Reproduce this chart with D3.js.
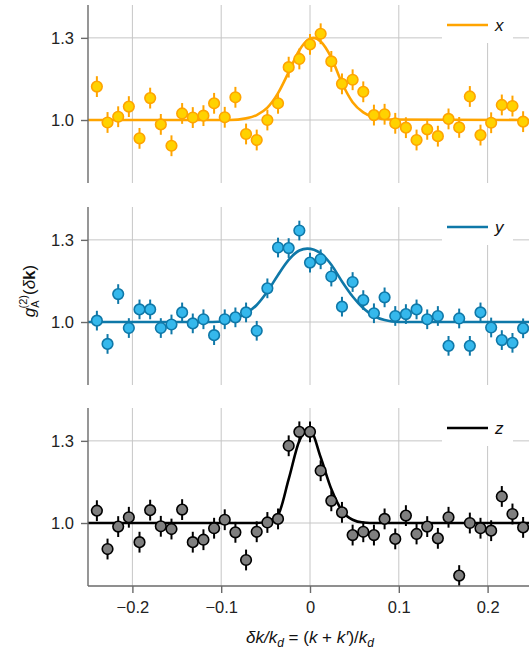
<!DOCTYPE html>
<html lang="en">
<head>
  <meta charset="UTF-8">
  <title>g2 correlation vs dk</title>
  <script src="https://d3js.org/d3.v7.min.js"></script>
  <style>
    body { margin: 0; background: #fff; }
    svg { font-family: "Liberation Sans", Arial, sans-serif; }
    .grid line { stroke: #c6c6c6; stroke-width: 1; }
    .axis path, .axis line { stroke: #6a6a6a; stroke-width: 1.4; }
    .axis text { font-size: 16.5px; fill: #222; }
    .fit { fill: none; stroke-width: 2.6; }
  </style>
</head>
<body>
<svg width="529" height="653" id="chart"></svg>

<script>
  // data positions along dk/kd
  const dk = [-0.240, -0.228, -0.216, -0.204, -0.192, -0.180, -0.168, -0.156, -0.144, -0.132,
              -0.120, -0.108, -0.096, -0.084, -0.072, -0.060, -0.048, -0.036, -0.024, -0.012,
               0.000,  0.012,  0.024,  0.036,  0.048,  0.060,  0.072,  0.084,  0.096,  0.108,
               0.120,  0.132,  0.144,  0.156,  0.168,  0.180,  0.192,  0.204,  0.216,  0.228, 0.240];

  const gX = [1.122, 0.991, 1.012, 1.049, 0.933, 1.080, 0.984, 0.906, 1.024, 1.009,
              1.016, 1.061, 1.010, 1.083, 0.949, 0.927, 1.000, 1.061, 1.193, 1.223,
              1.276, 1.315, 1.214, 1.132, 1.147, 1.103, 1.018, 1.021, 0.988, 0.972,
              0.927, 0.966, 0.941, 1.004, 0.973, 1.086, 0.945, 0.990, 1.055, 1.051, 0.994];
  const gY = [1.005, 0.920, 1.102, 0.978, 1.046, 1.046, 0.978, 0.991, 1.035, 0.995,
              1.010, 0.952, 1.010, 1.017, 1.035, 0.968, 1.123, 1.272, 1.270, 1.334,
              1.217, 1.229, 1.166, 1.056, 1.146, 1.080, 1.032, 1.090, 1.022, 1.029,
              1.046, 1.010, 1.022, 0.913, 1.013, 0.913, 1.035, 0.980, 0.934, 0.924, 0.977];
  const gZ = [1.045, 0.905, 0.987, 1.021, 0.930, 1.047, 0.988, 0.978, 1.049, 0.930,
              0.939, 0.981, 1.012, 0.966, 0.865, 0.968, 1.002, 1.015, 1.282, 1.333,
              1.333, 1.191, 1.081, 1.039, 0.956, 0.968, 0.956, 1.015, 0.942, 1.027,
              0.960, 0.987, 0.944, 1.021, 0.808, 1.000, 0.981, 0.972, 1.097, 1.033, 0.984];
  const errors = [0.038, 0.036, 0.038];

  // fit curves
  const fitXk = [-0.25, -0.09, -0.072, -0.06, -0.048, -0.036, -0.024, -0.012, 0.0, 0.004, 0.012, 0.024, 0.036, 0.048, 0.06, 0.072, 0.09, 0.25];
  const fitXg = [1.0, 1.0, 1.006, 1.018, 1.045, 1.098, 1.175, 1.255, 1.297, 1.300, 1.287, 1.228, 1.135, 1.065, 1.028, 1.010, 1.002, 1.0];
  const fitYk = [-0.25, -0.11, -0.096, -0.084, -0.072, -0.06, -0.048, -0.036, -0.024, -0.012, -0.003, 0.012, 0.024, 0.036, 0.048, 0.06, 0.072, 0.084, 0.1, 0.25];
  const fitYg = [1.0, 1.0, 1.004, 1.013, 1.032, 1.062, 1.111, 1.172, 1.227, 1.261, 1.268, 1.251, 1.209, 1.148, 1.093, 1.050, 1.022, 1.007, 1.0, 1.0];
  const fitZk = [-0.25, -0.06, -0.048, -0.036, -0.024, -0.012, -0.002, 0.0, 0.012, 0.024, 0.036, 0.048, 0.06, 0.075, 0.25];
  const fitZg = [1.0, 1.0, 1.006, 1.030, 1.160, 1.300, 1.343, 1.342, 1.240, 1.124, 1.045, 1.012, 1.002, 1.0, 1.0];

  const labels = ['x', 'y', 'z'];
  const markerFill = ['#ffd200', '#35b8ec', '#7f7f7f'];
  const markerStroke = ['#ffa400', '#0f78a8', '#000000'];
  const lineColor = ['#ffa400', '#0f78a8', '#000000'];

  const xTicks = [-0.2, -0.1, 0, 0.1, 0.2];
  const yTicks = [1.0, 1.3];

  const series = [
    { values: gX, fitK: fitXk, fitG: fitXg },
    { values: gY, fitK: fitYk, fitG: fitYg },
    { values: gZ, fitK: fitZk, fitG: fitZg }
  ];

  const left = 88, right = 532;
  const panelTops = [5, 207, 408];
  const panelH = 178;

  const svg = d3.select('#chart');
  const x = d3.scaleLinear().domain([-0.25, 0.25]).range([left, right]);

  series.forEach((s, i) => {
    const top = panelTops[i];
    const y = d3.scaleLinear().domain([0.77, 1.42]).range([top + panelH, top]);
    const g = svg.append('g');

    // grid
    const grid = g.append('g').attr('class', 'grid');
    grid.selectAll('.vg').data(xTicks).enter().append('line')
      .attr('x1', d => x(d)).attr('x2', d => x(d))
      .attr('y1', top).attr('y2', top + panelH);
    grid.selectAll('.hg').data(yTicks).enter().append('line')
      .attr('x1', left).attr('x2', right)
      .attr('y1', d => y(d)).attr('y2', d => y(d));

    // legend box knocks out the grid
    g.append('rect')
      .attr('x', 442).attr('y', top).attr('width', 71).attr('height', 38)
      .attr('fill', '#fff');
    g.append('line')
      .attr('x1', 447).attr('x2', 488)
      .attr('y1', top + 20).attr('y2', top + 20)
      .attr('stroke', lineColor[i]).attr('stroke-width', 2.6);
    g.append('text')
      .attr('x', 495).attr('y', top + 26)
      .attr('font-size', 17).attr('font-style', 'italic').attr('fill', '#111')
      .text(labels[i]);

    // fit curve
    const line = d3.line()
      .x((d, j) => x(s.fitK[j]))
      .y(d => y(d))
      .curve(d3.curveMonotoneX);
    g.append('path')
      .datum(s.fitG)
      .attr('class', 'fit')
      .attr('stroke', lineColor[i])
      .attr('d', line);

    // error bars + markers
    const pts = g.selectAll('.pt').data(s.values).enter().append('g');
    pts.append('line')
      .attr('x1', (d, j) => x(dk[j])).attr('x2', (d, j) => x(dk[j]))
      .attr('y1', d => y(d - errors[i])).attr('y2', d => y(d + errors[i]))
      .attr('stroke', markerStroke[i]).attr('stroke-width', 2);
    pts.append('circle')
      .attr('cx', (d, j) => x(dk[j])).attr('cy', d => y(d))
      .attr('r', 5.3)
      .attr('fill', markerFill[i])
      .attr('stroke', markerStroke[i]).attr('stroke-width', 1.6);

    // y axis
    const ya = g.append('g').attr('class', 'axis')
      .attr('transform', `translate(${left},0)`)
      .call(d3.axisLeft(y).tickValues(yTicks).tickSize(7).tickPadding(7).tickFormat(d3.format('.1f')));
    ya.select('.domain').attr('d', `M0,${top}V${top + panelH}`);

    if (i === 2) {
      const xa = g.append('g').attr('class', 'axis')
        .attr('transform', `translate(0,${top + panelH})`)
        .call(d3.axisBottom(x).tickValues(xTicks).tickSize(7).tickPadding(8)
          .tickFormat(d => d === 0 ? '0' : d3.format('.1f')(d)));
      xa.select('.domain').attr('d', `M${left},0H${right}`);
    }
  });

  // y label
  const yl = svg.append('text')
    .attr('transform', 'translate(35,291) rotate(-90)')
    .attr('text-anchor', 'middle')
    .attr('font-size', 17).attr('fill', '#111');
  yl.append('tspan').attr('font-style', 'italic').text('g');
  yl.append('tspan').attr('font-size', 11).attr('dy', 4).text('A');
  yl.append('tspan').attr('font-size', 11).attr('dx', -8).attr('dy', -12).text('(2)');
  yl.append('tspan').attr('dy', 8).text('(');
  yl.append('tspan').attr('font-style', 'italic').text('δ');
  yl.append('tspan').attr('font-weight', 'bold').text('k');
  yl.append('tspan').text(')');

  // x label
  const xl = svg.append('text')
    .attr('x', 310).attr('y', 643)
    .attr('text-anchor', 'middle')
    .attr('font-size', 17).attr('fill', '#111');
  xl.append('tspan').attr('font-style', 'italic').text('δk/k');
  xl.append('tspan').attr('font-style', 'italic').attr('font-size', 12).attr('dy', 4).text('d');
  xl.append('tspan').attr('dy', -4).text(' = (');
  xl.append('tspan').attr('font-style', 'italic').text('k');
  xl.append('tspan').text(' + ');
  xl.append('tspan').attr('font-style', 'italic').text('k′');
  xl.append('tspan').text(')/');
  xl.append('tspan').attr('font-style', 'italic').text('k');
  xl.append('tspan').attr('font-style', 'italic').attr('font-size', 12).attr('dy', 4).text('d');
</script>
</body>
</html>
